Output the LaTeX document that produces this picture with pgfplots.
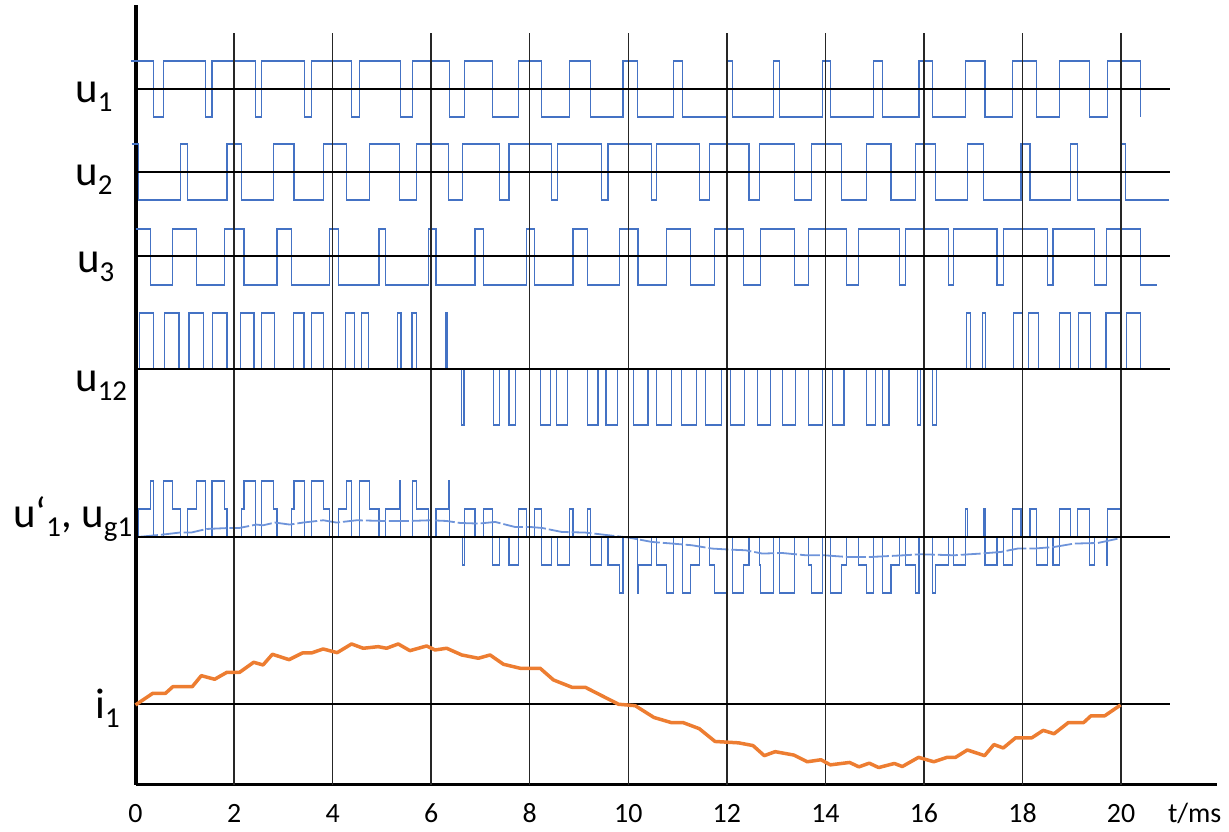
\documentclass[border=0pt]{standalone}
\usepackage{fontspec}
\setmainfont{Carlito}
\usepackage{pgfplots}
\pgfplotsset{compat=1.18}

\definecolor{wave}{RGB}{68,114,196}
\definecolor{avgwave}{RGB}{110,148,218}
\definecolor{current}{RGB}{237,125,49}
\colorlet{gridink}{black!85}

\newcommand{\lab}{\fontsize{43}{43}\selectfont}
\newcommand{\sub}[1]{\raisebox{-0.2em}{\fontsize{29}{29}\selectfont #1}}

\begin{document}
\begin{tikzpicture}
\begin{axis}[
  x=49.28bp, y=1bp,
  xmin=0, xmax=21.95, ymin=0, ymax=780,
  axis x line=bottom, axis y line=left,
  axis line style={-},
  x axis line style={line width=3bp},
  y axis line style={line width=4bp},
  xtick={0,2,...,20}, ytick=\empty,
  major tick length=0pt,
  /pgf/number format/assume math mode=true,
  xticklabel style={font=\fontsize{28}{28}\selectfont, anchor=base, yshift=-38bp},
  clip=false,
]

% u1  (high 724, low 668)
\addplot[wave, line width=1.2bp, const plot] coordinates {
  (-0.1,724) (0.366,668) (0.576,724) (1.423,668) (1.551,724) (2.439,668)
  (2.561,724) (3.435,668) (3.571,724) (4.384,668) (4.553,724) (5.379,668)
  (5.616,724) (6.369,668) (6.673,724) (7.25,668) (7.77,724) (8.245,668)
  (8.807,724) (9.228,668) (9.892,724) (10.18,668) (10.92,724) (11.10,668)
  (11.99,724) (12.12,668) (12.95,724) (13.07,668) (13.94,724) (14.11,668)
  (14.97,724) (15.16,668) (15.90,724) (16.17,668) (16.85,724) (17.24,668)
  (17.80,724) (18.29,668) (18.75,724) (19.36,668) (19.73,724) (20.39,668)
};

% u2  (high 641, low 585)
\addplot[wave, line width=1.2bp, const plot] coordinates {
  (-0.08,641) (0.068,585) (0.908,641) (1.063,585) (1.856,641) (2.148,585)
  (2.805,641) (3.218,585) (3.807,641) (4.282,585) (4.756,641) (5.352,585)
  (5.705,641) (6.348,585) (6.632,641) (7.385,585) (7.581,641) (8.435,585)
  (8.571,641) (9.451,585) (9.587,641) (10.47,585) (10.57,641) (11.44,585)
  (11.65,641) (12.45,585) (12.67,641) (13.37,585) (13.71,641) (14.32,585)
  (14.83,641) (15.33,585) (15.83,641) (16.23,585) (16.89,641) (17.20,585)
  (17.97,641) (18.15,585) (18.98,641) (19.11,585) (19.98,641) (20.09,585)
  (20.98,585)
};

% u3  (high 556, low 500)
\addplot[wave, line width=1.2bp, const plot] coordinates {
  (0.0,556) (0.299,500) (0.758,556) (1.233,500) (1.809,556) (2.201,500)
  (2.872,556) (3.164,500) (3.943,556) (4.112,500) (4.939,556) (5.081,500)
  (5.942,556) (6.098,500) (6.89,556) (7.06,500) (7.927,556) (8.09,500)
  (8.876,556) (9.18,500) (9.824,556) (10.197,500) (10.77,556) (11.26,500)
  (11.75,556) (12.34,500) (12.68,556) (13.37,500) (13.65,556) (14.43,500)
  (14.67,556) (15.51,500) (15.62,556) (16.50,500) (16.60,556) (17.48,500)
  (17.62,556) (18.50,500) (18.62,556) (19.46,500) (19.70,556) (20.39,500)
  (20.73,500)
};

% u12  (zero 416, +472, -360)
\addplot[wave, line width=1.2bp, const plot] coordinates {
  (0,416) (0.081,472) (0.372,416) (0.589,472) (0.881,416) (1.084,472)
  (1.382,416) (1.558,472) (1.856,416) (2.134,472) (2.405,416) (2.554,472)
  (2.825,416) (3.198,472) (3.42,416) (3.571,472) (3.81,416) (4.268,472)
  (4.451,416) (4.587,472) (4.736,416) (5.318,472) (5.386,416) (5.61,472)
  (5.705,416) (6.301,472) (6.33,416) (6.62,360) (6.667,416) (7.263,360)
  (7.385,416) (7.581,360) (7.717,416) (8.225,360) (8.415,416) (8.551,360)
  (8.767,416) (9.18,360) (9.384,416) (9.547,360) (9.783,416) (10.108,360)
  (10.40,416) (10.57,360) (10.874,416) (11.077,360) (11.382,416) (11.565,360)
  (11.89,416) (12.073,360) (12.364,416) (12.615,360) (12.886,416) (13.124,360)
  (13.394,416) (13.652,360) (13.937,416) (14.14,360) (14.376,416) (14.83,360)
  (15.02,416) (15.156,360) (15.291,416) (15.868,360) (15.935,416) (16.172,360)
  (16.26,416) (16.87,472) (16.94,416) (17.19,472) (17.256,416) (17.82,472)
  (18.0,416) (18.117,472) (18.327,416) (18.746,472) (18.97,416) (19.14,472)
  (19.376,416) (19.695,472) (19.98,416) (20.115,472) (20.392,416)
};

% u'1  (levels 304 / 276 / 248 / 220 / 192)
\addplot[wave, line width=1.2bp, const plot] coordinates {
  (0,248) (0.068,276) (0.299,304) (0.366,248) (0.576,304) (0.758,276)
  (0.908,248) (1.063,276) (1.233,304) (1.423,248) (1.551,304) (1.809,276)
  (1.856,248) (2.148,276) (2.201,304) (2.439,248) (2.561,304) (2.805,276)
  (2.872,248) (3.164,276) (3.218,304) (3.435,248) (3.571,304) (3.807,276)
  (3.943,248) (4.112,276) (4.282,304) (4.384,248) (4.553,304) (4.756,276)
  (4.939,248) (5.081,276) (5.352,304) (5.379,248) (5.616,304) (5.705,276)
  (5.942,248) (6.098,276) (6.348,304) (6.369,248) (6.632,220) (6.673,276)
  (6.89,248) (7.06,276) (7.25,220) (7.385,248) (7.581,220) (7.77,276)
  (7.927,248) (8.09,276) (8.245,220) (8.435,248) (8.571,220) (8.807,276)
  (8.876,248) (9.18,276) (9.228,220) (9.451,248) (9.587,220) (9.824,192)
  (9.892,248) (10.18,192) (10.197,220) (10.47,248) (10.57,220) (10.77,192)
  (10.92,248) (11.10,192) (11.26,220) (11.44,248) (11.65,220) (11.75,192)
  (11.99,248) (12.12,192) (12.34,220) (12.45,248) (12.67,220) (12.68,192)
  (12.95,248) (13.07,192) (13.37,248) (13.65,220) (13.71,192) (13.94,248)
  (14.11,192) (14.32,220) (14.43,248) (14.67,220) (14.83,192) (14.97,248)
  (15.16,192) (15.33,220) (15.51,248) (15.62,220) (15.83,192) (15.90,248)
  (16.17,192) (16.23,220) (16.50,248) (16.60,220) (16.85,276) (16.89,248)
  (17.20,276) (17.24,220) (17.48,248) (17.62,220) (17.80,276) (17.97,248)
  (18.15,276) (18.29,220) (18.50,248) (18.62,220) (18.75,276) (18.98,248)
  (19.11,276) (19.36,220) (19.46,248) (19.70,220) (19.73,276) (19.98,248)
};

% ug1, the averaged phase voltage
\addplot[avgwave, line width=1.8bp, dash pattern=on 20bp off 3bp] coordinates {
  (0.05,248) (0.555,250.4) (0.894,252.4) (1.13,252.4) (1.44,256) (1.91,257)
  (2.11,257) (2.45,260.4) (2.59,259.7) (2.83,262.4) (3.13,260.4) (3.40,262.4)
  (3.81,264.7) (4.08,262.4) (4.49,264.7) (5.03,264) (5.57,264) (5.98,264.7)
  (6.31,264) (6.59,262) (6.96,261.4) (7.30,263) (7.70,258) (8.01,258)
  (8.25,257) (8.65,253) (9.13,252.4) (9.60,249.7) (10.01,247.4) (10.48,243)
  (10.89,241.4) (11.29,239.7) (11.70,236.4) (12.04,235.4) (12.38,234.7)
  (12.72,231.4) (13.12,232) (13.60,229.7) (13.97,229.7) (14.44,228)
  (14.92,228) (15.6,229.7) (15.93,230.7) (16.61,229.7) (17.15,231.4)
  (17.56,233) (17.9,236.4) (18.24,236.4) (18.64,238) (19.05,241.4)
  (19.53,242) (20.0,247)
};

% grid: vertical time lines and the zero line of each trace
\pgfplotsinvokeforeach{2,4,...,20}{
  \draw[gridink, line width=1.4bp] (axis cs:#1,0) -- (axis cs:#1,752);
}
\pgfplotsinvokeforeach{696,613,529,416,248,81}{
  \draw[black, line width=1.4bp] (axis cs:0,#1) -- (axis cs:21,#1);
}

% i1
\addplot[current, line width=3.5bp, line join=round] coordinates {
  (0,80) (0.352,91.7) (0.61,91.7) (0.758,98.3) (1.152,98.3) (1.335,109.3)
  (1.606,105.7) (1.856,112.7) (2.114,112.7) (2.398,122.7) (2.588,120)
  (2.778,130.7) (3.116,125.3) (3.388,132) (3.571,132) (3.807,136)
  (4.092,132.3) (4.384,141) (4.62,136.7) (4.925,138.3) (5.095,136.7)
  (5.331,141) (5.569,134.3) (5.908,139) (6.077,135) (6.315,136.7)
  (6.62,130) (6.957,126.7) (7.195,130) (7.466,120.7) (7.805,116.7)
  (8.211,116.7) (8.482,105) (8.856,97.7) (9.126,97.7) (9.803,80.7)
  (10.14,79.3) (10.52,67.5) (10.87,62.4) (11.11,62.4) (11.44,56.3)
  (11.76,43.5) (12.0,42.8) (12.24,42.1) (12.53,39.4) (12.76,29.3)
  (12.98,33.3) (13.36,29.9) (13.63,23.2) (13.91,25.2) (14.10,20.1)
  (14.49,22.5) (14.68,18.1) (14.89,21.8) (15.08,17.4) (15.40,21.5)
  (15.56,18.4) (15.89,27.6) (16.20,23.2) (16.47,27.6) (16.64,27.6)
  (16.88,35.0) (17.23,29.3) (17.42,40.4) (17.61,37.0) (17.86,47.2)
  (18.19,47.2) (18.42,54.6) (18.64,51.2) (18.93,62.4) (19.24,62.4)
  (19.39,69.2) (19.67,69.2) (19.99,80.0)
};

% trace names
\node[anchor=base west, inner sep=0pt, font=\lab] at (axis cs:-1.227,682) {u\sub{1}};
\node[anchor=base west, inner sep=0pt, font=\lab] at (axis cs:-1.227,599) {u\sub{2}};
\node[anchor=base west, inner sep=0pt, font=\lab] at (axis cs:-1.187,512) {u\sub{3}};
\node[anchor=base west, inner sep=0pt, font=\lab] at (axis cs:-1.227,393) {u\sub{12}};
\node[anchor=base west, inner sep=0pt, font=\lab] at (axis cs:-2.486,257) {u‘\sub{1}, u\sub{g1}};
\node[anchor=base west, inner sep=0pt, font=\lab] at (axis cs:-0.822,66) {i\sub{1}};
\node[anchor=base west, inner sep=0pt, font=\fontsize{28}{28}\selectfont]
  at (axis cs:20.95,-38) {t/ms};

\coordinate (bbsw) at (axis cs:-2.750,-47);
\coordinate (bbne) at (axis cs:22.190,785);
\end{axis}
\pgfresetboundingbox
\useasboundingbox (bbsw) rectangle (bbne);
\end{tikzpicture}
\end{document}
